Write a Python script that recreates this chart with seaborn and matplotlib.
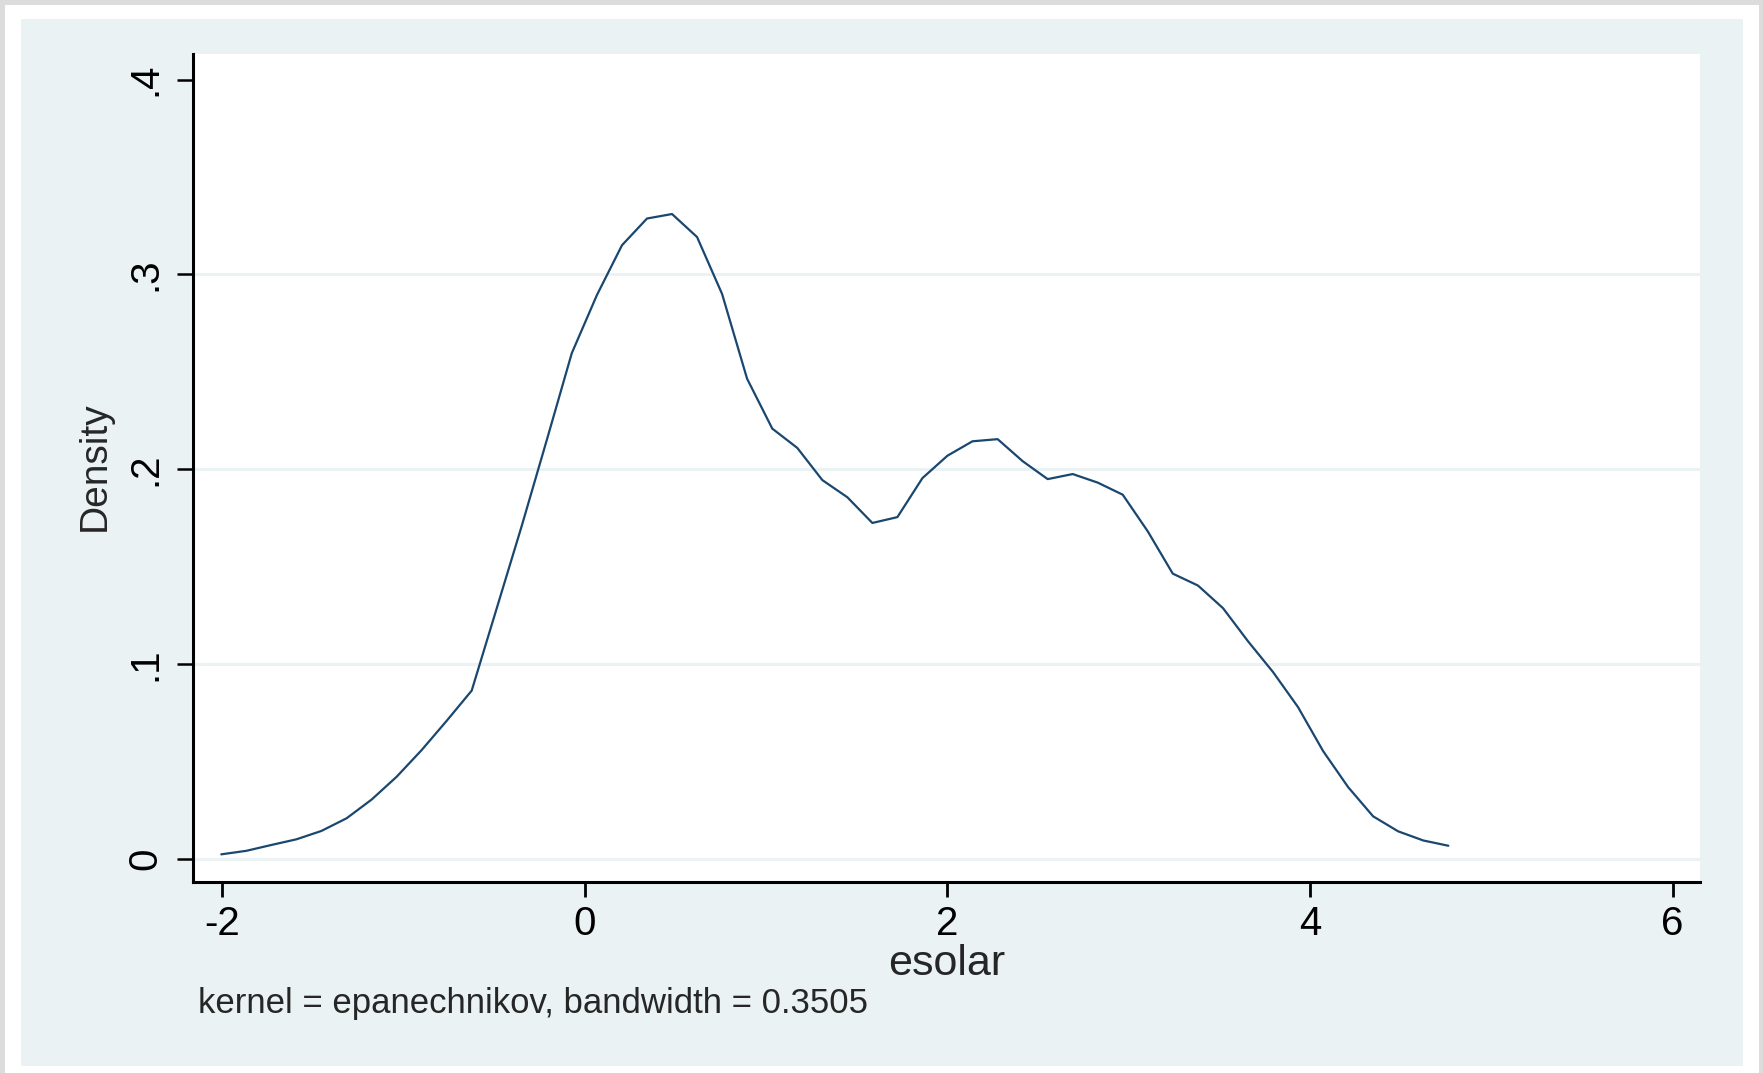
import matplotlib
matplotlib.use("Agg")
import matplotlib.pyplot as plt
from matplotlib import font_manager
from matplotlib.patches import Rectangle
import seaborn as sns
import pandas as pd

# Kernel density estimate of "esolar" (epanechnikov kernel, 50 evaluation points)
esolar_grid = [
    -2.005, -1.867, -1.729, -1.591, -1.453, -1.314, -1.176, -1.038, -0.900, -0.762,
    -0.624, -0.486, -0.348, -0.210, -0.072, 0.067, 0.205, 0.343, 0.481, 0.619,
    0.757, 0.895, 1.034, 1.172, 1.310, 1.448, 1.586, 1.724, 1.862, 2.000,
    2.138, 2.277, 2.415, 2.553, 2.691, 2.829, 2.967, 3.105, 3.243, 3.382,
    3.520, 3.658, 3.796, 3.934, 4.072, 4.210, 4.348, 4.486, 4.625, 4.763,
]
density = [
    0.0025, 0.0043, 0.0073, 0.0102, 0.0145, 0.0210, 0.0306, 0.0423, 0.0560, 0.0710,
    0.0865, 0.1287, 0.1710, 0.2150, 0.2596, 0.2895, 0.3150, 0.3287, 0.3310, 0.3192,
    0.2900, 0.2465, 0.2209, 0.2110, 0.1945, 0.1857, 0.1725, 0.1755, 0.1955, 0.2070,
    0.2144, 0.2155, 0.2042, 0.1950, 0.1976, 0.1932, 0.1870, 0.1682, 0.1465, 0.1404,
    0.1288, 0.1118, 0.0960, 0.0780, 0.0555, 0.0370, 0.0220, 0.0143, 0.0096, 0.0069,
]
x_ticks = [-2, 0, 2, 4, 6]
x_tick_labels = ["-2", "0", "2", "4", "6"]
y_ticks = [0.0, 0.1, 0.2, 0.3, 0.4]
y_tick_labels = ["0", ".1", ".2", ".3", ".4"]
grid_levels = [0.0, 0.1, 0.2, 0.3]
x_title = "esolar"
y_title = "Density"
note = "kernel = epanechnikov, bandwidth = 0.3505"

df = pd.DataFrame({"esolar": esolar_grid, "Density": density})

sns.set_style("ticks")
installed = {f.name for f in font_manager.fontManager.ttflist}
main_font = "Liberation Sans" if "Liberation Sans" in installed else "DejaVu Sans"
plt.rcParams["font.family"] = [main_font, "DejaVu Sans"]

W, H = 1763, 1073
DPI = 100
fig = plt.figure(figsize=(W / DPI, H / DPI), dpi=DPI)
fig.patch.set_facecolor("#dcdcdc")


def px_rect(x0, y0, x1, y1, color):
    fig.patches.append(Rectangle((x0 / W, 1 - y1 / H), (x1 - x0) / W, (y1 - y0) / H,
                                 transform=fig.transFigure, facecolor=color,
                                 edgecolor="none", zorder=-10))


px_rect(5, 5, 1759, 1073, "white")
px_rect(21, 19, 1743, 1066, "#eaf2f3")

# plot region in pixels
left, right, top, bottom = 192.5, 1700, 54, 881.5
ax = fig.add_axes([left / W, 1 - bottom / H, (right - left) / W, (bottom - top) / H])
ax.set_facecolor("white")

for lvl in grid_levels:
    ax.axhline(lvl, color="#eaf2f3", lw=2.2, zorder=1)

sns.lineplot(data=df, x="esolar", y="Density", ax=ax, color="#1a476f", lw=1.6, zorder=3)

ax.set_xlim(-2.164, 6.151)
ax.set_ylim(-0.01144, 0.4131)

for side in ("top", "right"):
    ax.spines[side].set_visible(False)
for side in ("left", "bottom"):
    ax.spines[side].set_linewidth(2.2)
    ax.spines[side].set_color("black")

ax.set_xticks(x_ticks)
ax.set_xticklabels(x_tick_labels, fontsize=29)
ax.set_yticks(y_ticks)
ax.set_yticklabels(y_tick_labels, fontsize=29, rotation=90, va="center")
ax.tick_params(axis="x", length=11, width=2.0, pad=6, colors="black")
ax.tick_params(axis="y", length=11.5, width=1.8, pad=9, colors="black")

ax.set_xlabel("")
ax.set_ylabel("")
fig.text(947 / W, 1 - 975 / H, x_title, fontsize=31, ha="center", va="baseline")
fig.text(105 / W, 1 - 466 / H, y_title, fontsize=28, rotation=90,
         rotation_mode="anchor", ha="center", va="baseline")
fig.text(198 / W, 1 - 1013 / H, note, fontsize=25, ha="left", va="baseline")

fig.savefig("out.png", dpi=DPI, facecolor=fig.get_facecolor())
